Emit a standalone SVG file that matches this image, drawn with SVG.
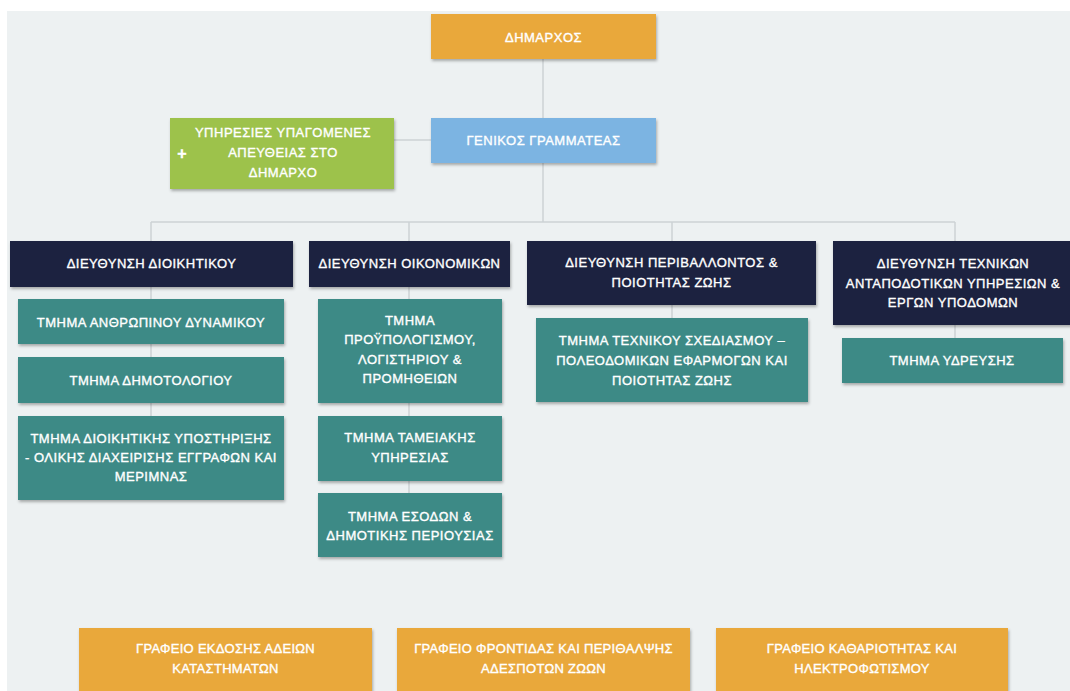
<svg xmlns="http://www.w3.org/2000/svg" width="1070" height="691" viewBox="0 0 1070 691">
<defs>
<filter id="sh" x="-10%" y="-20%" width="120%" height="150%">
<feDropShadow dx="1" dy="2" stdDeviation="1.5" flood-color="#000" flood-opacity="0.3"/>
</filter>
<style>
.n{filter:url(#sh);}
.or{fill:#e9a83b;}
.bl{fill:#7cb4e2;}
.gr{fill:#9dc24c;}
.nv{fill:#1f2341;}
.tl{fill:#3c8a86;}
text{font-family:"Liberation Sans",Arial,sans-serif;font-size:13px;fill:#ffffff;stroke:#ffffff;stroke-width:0.35px;text-anchor:middle;dominant-baseline:central;letter-spacing:0.5px;}
.bt{letter-spacing:0.3px;}
.c{stroke:#cdd2d5;stroke-width:1.5;fill:none;}
</style>
</defs>
<rect x="0" y="0" width="1070" height="691" fill="#ffffff"/>
<rect x="7" y="11" width="1063" height="680" fill="#edf1f2"/>
<g id="connectors">
<path class="c" d="M543 59V222M394 140H431M151 222H955M151 222V241M409 222V241M672 222V241M955 222V241M151 287V416M409 287V493M672 305V318M955 325V338"/>
</g>
<g id="dimarchos"><rect class="n or" x="431" y="14" width="225" height="45"/><text x="543.5" y="37">ΔΗΜΑΡΧΟΣ</text></g>
<g id="genikos"><rect class="n bl" x="431" y="118" width="225" height="45"/><text x="543.5" y="140">ΓΕΝΙΚΟΣ ΓΡΑΜΜΑΤΕΑΣ</text></g>
<g id="ypiresies"><rect class="n gr" x="170" y="118" width="224" height="71"/>
<text x="283" y="132">ΥΠΗΡΕΣΙΕΣ ΥΠΑΓΟΜΕΝΕΣ</text><text x="283" y="152">ΑΠΕΥΘΕΙΑΣ ΣΤΟ</text><text x="283" y="172">ΔΗΜΑΡΧΟ</text>
<text x="182" y="153" style="font-size:16px;font-weight:bold;letter-spacing:0">+</text></g>
<g id="h1"><rect class="n nv" x="10" y="241" width="283" height="46"/><text x="151.5" y="263">ΔΙΕΥΘΥΝΣΗ ΔΙΟΙΚΗΤΙΚΟΥ</text></g>
<g id="h2"><rect class="n nv" x="309" y="241" width="201" height="46"/><text x="409.5" y="263">ΔΙΕΥΘΥΝΣΗ ΟΙΚΟΝΟΜΙΚΩΝ</text></g>
<g id="h3"><rect class="n nv" x="527" y="241" width="289" height="64"/><text x="671.5" y="262">ΔΙΕΥΘΥΝΣΗ ΠΕΡΙΒΑΛΛΟΝΤΟΣ &amp;</text><text x="671.5" y="282">ΠΟΙΟΤΗΤΑΣ ΖΩΗΣ</text></g>
<g id="h4"><rect class="n nv" x="833" y="241" width="244" height="84"/><text x="953" y="263">ΔΙΕΥΘΥΝΣΗ ΤΕΧΝΙΚΩΝ</text><text x="953" y="283">ΑΝΤΑΠΟΔΟΤΙΚΩΝ ΥΠΗΡΕΣΙΩΝ &amp;</text><text x="953" y="302">ΕΡΓΩΝ ΥΠΟΔΟΜΩΝ</text></g>
<g id="t1"><rect class="n tl" x="18" y="299" width="266" height="45"/><text x="151" y="322">ΤΜΗΜΑ ΑΝΘΡΩΠΙΝΟΥ ΔΥΝΑΜΙΚΟΥ</text></g>
<g id="t2"><rect class="n tl" x="18" y="357" width="266" height="46"/><text x="151" y="380">ΤΜΗΜΑ ΔΗΜΟΤΟΛΟΓΙΟΥ</text></g>
<g id="t3"><rect class="n tl" x="18" y="416" width="266" height="84"/><text x="151" y="438">ΤΜΗΜΑ ΔΙΟΙΚΗΤΙΚΗΣ ΥΠΟΣΤΗΡΙΞΗΣ</text><text x="151" y="457">- ΟΛΙΚΗΣ ΔΙΑΧΕΙΡΙΣΗΣ ΕΓΓΡΑΦΩΝ ΚΑΙ</text><text x="151" y="476">ΜΕΡΙΜΝΑΣ</text></g>
<g id="t4"><rect class="n tl" x="318" y="299" width="184" height="104"/><text x="410" y="320">ΤΜΗΜΑ</text><text x="410" y="339">ΠΡΟΫΠΟΛΟΓΙΣΜΟΥ,</text><text x="410" y="359">ΛΟΓΙΣΤΗΡΙΟΥ &amp;</text><text x="410" y="378">ΠΡΟΜΗΘΕΙΩΝ</text></g>
<g id="t5"><rect class="n tl" x="318" y="416" width="184" height="65"/><text x="410" y="437">ΤΜΗΜΑ ΤΑΜΕΙΑΚΗΣ</text><text x="410" y="457">ΥΠΗΡΕΣΙΑΣ</text></g>
<g id="t6"><rect class="n tl" x="318" y="493" width="184" height="64"/><text x="410" y="516">ΤΜΗΜΑ ΕΣΟΔΩΝ &amp;</text><text x="410" y="535">ΔΗΜΟΤΙΚΗΣ ΠΕΡΙΟΥΣΙΑΣ</text></g>
<g id="t7"><rect class="n tl" x="536" y="318" width="272" height="84"/><text x="672" y="340">ΤΜΗΜΑ ΤΕΧΝΙΚΟΥ ΣΧΕΔΙΑΣΜΟΥ –</text><text x="672" y="360">ΠΟΛΕΟΔΟΜΙΚΩΝ ΕΦΑΡΜΟΓΩΝ ΚΑΙ</text><text x="672" y="380">ΠΟΙΟΤΗΤΑΣ ΖΩΗΣ</text></g>
<g id="t8"><rect class="n tl" x="842" y="338" width="221" height="45"/><text x="952" y="360">ΤΜΗΜΑ ΥΔΡΕΥΣΗΣ</text></g>
<g id="b1"><rect class="n or" x="79" y="628" width="293" height="70"/><text class="bt" x="225.5" y="648">ΓΡΑΦΕΙΟ ΕΚΔΟΣΗΣ ΑΔΕΙΩΝ</text><text class="bt" x="225.5" y="668">ΚΑΤΑΣΤΗΜΑΤΩΝ</text></g>
<g id="b2"><rect class="n or" x="397" y="628" width="293" height="70"/><text class="bt" x="543.5" y="648">ΓΡΑΦΕΙΟ ΦΡΟΝΤΙΔΑΣ ΚΑΙ ΠΕΡΙΘΑΛΨΗΣ</text><text class="bt" x="543.5" y="668">ΑΔΕΣΠΟΤΩΝ ΖΩΩΝ</text></g>
<g id="b3"><rect class="n or" x="716" y="628" width="292" height="70"/><text class="bt" x="862" y="648">ΓΡΑΦΕΙΟ ΚΑΘΑΡΙΟΤΗΤΑΣ ΚΑΙ</text><text class="bt" x="862" y="668">ΗΛΕΚΤΡΟΦΩΤΙΣΜΟΥ</text></g>
</svg>
